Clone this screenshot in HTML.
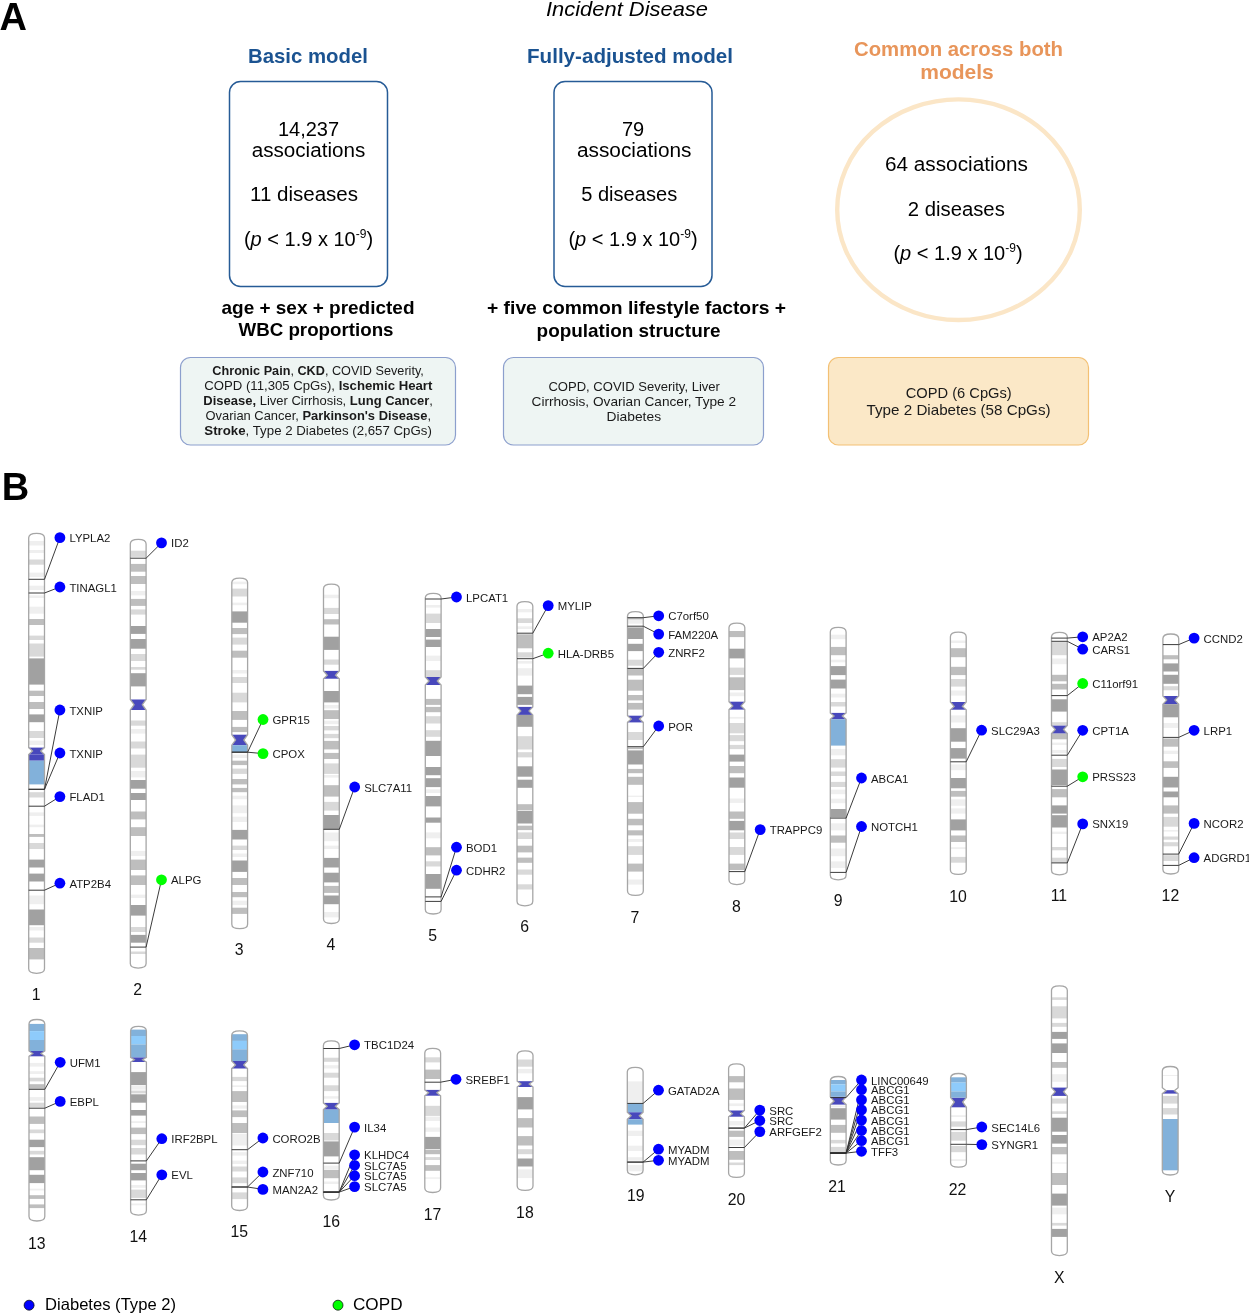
<!DOCTYPE html>
<html><head><meta charset="utf-8"><style>
html,body{margin:0;padding:0;background:#fff;}
svg{display:block;font-family:"Liberation Sans", sans-serif;will-change:transform;}
</style></head><body>
<svg width="1249" height="1314" viewBox="0 0 1249 1314">
<rect width="1249" height="1314" fill="#fff"/>
<text x="-0.5" y="30.2" font-size="38" font-weight="bold">A</text>
<text x="627" y="16.1" font-size="21" font-style="italic" text-anchor="middle" textLength="162" lengthAdjust="spacingAndGlyphs">Incident Disease</text>
<text x="308" y="62.5" font-size="21" font-weight="bold" fill="#1b5391" text-anchor="middle" textLength="120" lengthAdjust="spacingAndGlyphs">Basic model</text>
<text x="630" y="62.5" font-size="21" font-weight="bold" fill="#1b5391" text-anchor="middle" textLength="206" lengthAdjust="spacingAndGlyphs">Fully-adjusted model</text>
<text x="958.5" y="55.8" font-size="21" font-weight="bold" fill="#e8955a" text-anchor="middle" textLength="209" lengthAdjust="spacingAndGlyphs">Common across both</text>
<text x="957" y="79" font-size="21" font-weight="bold" fill="#e8955a" text-anchor="middle">models</text>
<rect x="229.5" y="81.5" width="158" height="205" rx="11" fill="none" stroke="#265b96" stroke-width="1.5"/>
<rect x="554" y="81.5" width="158" height="205" rx="11" fill="none" stroke="#265b96" stroke-width="1.5"/>
<ellipse cx="958.5" cy="209.7" rx="121.3" ry="110.3" fill="none" stroke="#fbe6c7" stroke-width="4.4"/>
<text x="308.5" y="135.5" font-size="20" text-anchor="middle">14,237</text>
<text x="308.5" y="157.2" font-size="20" text-anchor="middle" textLength="113.6" lengthAdjust="spacingAndGlyphs">associations</text>
<text x="304" y="201.2" font-size="20" text-anchor="middle" textLength="108" lengthAdjust="spacingAndGlyphs">11 diseases</text>
<text x="308.5" y="246" font-size="20" text-anchor="middle">(<tspan font-style="italic">p</tspan> &lt; 1.9 x 10<tspan font-size="12" dy="-8">-9</tspan><tspan dy="8">)</tspan></text>
<text x="633" y="135.5" font-size="20" text-anchor="middle">79</text>
<text x="634.2" y="157.2" font-size="20" text-anchor="middle" textLength="114.5" lengthAdjust="spacingAndGlyphs">associations</text>
<text x="629.2" y="201.2" font-size="20" text-anchor="middle" textLength="96" lengthAdjust="spacingAndGlyphs">5 diseases</text>
<text x="633" y="246" font-size="20" text-anchor="middle">(<tspan font-style="italic">p</tspan> &lt; 1.9 x 10<tspan font-size="12" dy="-8">-9</tspan><tspan dy="8">)</tspan></text>
<text x="956.5" y="171.4" font-size="20" text-anchor="middle" textLength="143" lengthAdjust="spacingAndGlyphs">64 associations</text>
<text x="956.3" y="216" font-size="20" text-anchor="middle" textLength="97" lengthAdjust="spacingAndGlyphs">2 diseases</text>
<text x="958" y="260" font-size="20" text-anchor="middle">(<tspan font-style="italic">p</tspan> &lt; 1.9 x 10<tspan font-size="12" dy="-8">-9</tspan><tspan dy="8">)</tspan></text>
<text x="318" y="314" font-size="18.5" font-weight="bold" text-anchor="middle" textLength="193" lengthAdjust="spacingAndGlyphs">age + sex + predicted</text>
<text x="316" y="336" font-size="18.5" font-weight="bold" text-anchor="middle" textLength="155" lengthAdjust="spacingAndGlyphs">WBC proportions</text>
<text x="636.5" y="314.3" font-size="18.5" font-weight="bold" text-anchor="middle" textLength="299" lengthAdjust="spacingAndGlyphs">+ five common lifestyle factors +</text>
<text x="628.6" y="336.5" font-size="18.5" font-weight="bold" text-anchor="middle" textLength="184" lengthAdjust="spacingAndGlyphs">population structure</text>
<rect x="180.5" y="357.5" width="275" height="87.5" rx="10" fill="#eef5f3" stroke="#8c9fcd" stroke-width="1.2"/>
<rect x="503.5" y="357.5" width="260" height="87.5" rx="10" fill="#eef5f3" stroke="#8c9fcd" stroke-width="1.2"/>
<rect x="828.5" y="357.5" width="260" height="87.5" rx="10" fill="#fbe8c7" stroke="#f3c074" stroke-width="1.2"/>
<text x="318.1" y="375.3" font-size="13" fill="#1a1a1a" text-anchor="middle" textLength="211.5" lengthAdjust="spacingAndGlyphs"><tspan font-weight="bold">Chronic Pain</tspan>, <tspan font-weight="bold">CKD</tspan>, COVID Severity,</text>
<text x="318.3" y="389.7" font-size="13" fill="#1a1a1a" text-anchor="middle" textLength="228" lengthAdjust="spacingAndGlyphs">COPD (11,305 CpGs), <tspan font-weight="bold">Ischemic Heart</tspan></text>
<text x="318.1" y="404.8" font-size="13" fill="#1a1a1a" text-anchor="middle" textLength="229.5" lengthAdjust="spacingAndGlyphs"><tspan font-weight="bold">Disease,</tspan> Liver Cirrhosis, <tspan font-weight="bold">Lung Cancer</tspan>,</text>
<text x="318.3" y="419.7" font-size="13" fill="#1a1a1a" text-anchor="middle" textLength="225.5" lengthAdjust="spacingAndGlyphs">Ovarian Cancer, <tspan font-weight="bold">Parkinson's Disease</tspan>,</text>
<text x="318.1" y="434.8" font-size="13" fill="#1a1a1a" text-anchor="middle" textLength="227.5" lengthAdjust="spacingAndGlyphs"><tspan font-weight="bold">Stroke</tspan>, Type 2 Diabetes (2,657 CpGs)</text>
<text x="634.2" y="390.5" font-size="13" fill="#1a1a1a" text-anchor="middle" textLength="171.5" lengthAdjust="spacingAndGlyphs">COPD, COVID Severity, Liver</text>
<text x="633.8" y="405.8" font-size="13" fill="#1a1a1a" text-anchor="middle" textLength="204.5" lengthAdjust="spacingAndGlyphs">Cirrhosis, Ovarian Cancer, Type 2</text>
<text x="633.8" y="420.8" font-size="13" fill="#1a1a1a" text-anchor="middle" textLength="54.5" lengthAdjust="spacingAndGlyphs">Diabetes</text>
<text x="958.7" y="397.6" font-size="15" fill="#1a1a1a" text-anchor="middle" textLength="106" lengthAdjust="spacingAndGlyphs">COPD (6 CpGs)</text>
<text x="958.6" y="414.5" font-size="15" fill="#1a1a1a" text-anchor="middle" textLength="184" lengthAdjust="spacingAndGlyphs">Type 2 Diabetes (58 CpGs)</text>
<text x="1.7" y="500" font-size="38" font-weight="bold">B</text>
<circle cx="29.1" cy="1305.2" r="5" fill="#0000ff" stroke="#000" stroke-width="0.7"/>
<text x="45" y="1309.8" font-size="16.5" textLength="131" lengthAdjust="spacingAndGlyphs">Diabetes (Type 2)</text>
<circle cx="338" cy="1305.2" r="5" fill="#00ff00" stroke="#000" stroke-width="0.7"/>
<text x="353" y="1309.8" font-size="16.5" textLength="49.5" lengthAdjust="spacingAndGlyphs">COPD</text>
<defs><clipPath id="c0"><path d="M28.7 537.8C28.7 534.5 31.9 533.3 36.6 533.3C41.3 533.3 44.5 534.5 44.5 537.8L44.5 747.6L40.7 751L44.5 754.6L44.5 968.8C44.5 972.1 41.3 973.3 36.6 973.3C31.9 973.3 28.7 972.1 28.7 968.8L28.7 754.6L32.5 751L28.7 747.6Z"/></clipPath><clipPath id="c1"><path d="M130.3 543.9C130.3 540.6 133.5 539.4 138.2 539.4C142.9 539.4 146.1 540.6 146.1 543.9L146.1 699.5L142.3 704.7L146.1 710L146.1 963.6C146.1 966.9 142.9 968.1 138.2 968.1C133.5 968.1 130.3 966.9 130.3 963.6L130.3 710L134.1 704.7L130.3 699.5Z"/></clipPath><clipPath id="c2"><path d="M231.8 582.6C231.8 579.3 235 578.1 239.7 578.1C244.4 578.1 247.6 579.3 247.6 582.6L247.6 734.7L243.8 740L247.6 745.2L247.6 924.2C247.6 927.5 244.4 928.7 239.7 928.7C235 928.7 231.8 927.5 231.8 924.2L231.8 745.2L235.6 740L231.8 734.7Z"/></clipPath><clipPath id="c3"><path d="M323.5 588.7C323.5 585.4 326.7 584.2 331.4 584.2C336.1 584.2 339.3 585.4 339.3 588.7L339.3 670.9L335.5 675.2L339.3 678.7L339.3 919C339.3 922.3 336.1 923.5 331.4 923.5C326.7 923.5 323.5 922.3 323.5 919L323.5 678.7L327.3 675.2L323.5 670.9Z"/></clipPath><clipPath id="c4"><path d="M425.3 597.8C425.3 594.5 428.5 593.3 433.2 593.3C437.9 593.3 441.1 594.5 441.1 597.8L441.1 677L437.3 681L441.1 685L441.1 909.5C441.1 912.8 437.9 914 433.2 914C428.5 914 425.3 912.8 425.3 909.5L425.3 685L429.1 681L425.3 677Z"/></clipPath><clipPath id="c5"><path d="M517 606.1C517 602.8 520.2 601.6 524.9 601.6C529.6 601.6 532.8 602.8 532.8 606.1L532.8 706.9L529 710.9L532.8 714.9L532.8 901.3C532.8 904.6 529.6 905.8 524.9 905.8C520.2 905.8 517 904.6 517 901.3L517 714.9L520.8 710.9L517 706.9Z"/></clipPath><clipPath id="c6"><path d="M627.5 616.1C627.5 612.8 630.7 611.6 635.4 611.6C640.1 611.6 643.3 612.8 643.3 616.1L643.3 715.7L639.5 719L643.3 722.4L643.3 890.9C643.3 894.2 640.1 895.4 635.4 895.4C630.7 895.4 627.5 894.2 627.5 890.9L627.5 722.4L631.3 719L627.5 715.7Z"/></clipPath><clipPath id="c7"><path d="M729 627.6C729 624.3 732.2 623.1 736.9 623.1C741.6 623.1 744.8 624.3 744.8 627.6L744.8 701.7L741 705.9L744.8 709.6L744.8 880.1C744.8 883.4 741.6 884.6 736.9 884.6C732.2 884.6 729 883.4 729 880.1L729 709.6L732.8 705.9L729 701.7Z"/></clipPath><clipPath id="c8"><path d="M830.3 631.9C830.3 628.6 833.5 627.4 838.2 627.4C842.9 627.4 846.1 628.6 846.1 631.9L846.1 712.9L842.3 716.1L846.1 719.3L846.1 875.3C846.1 878.6 842.9 879.8 838.2 879.8C833.5 879.8 830.3 878.6 830.3 875.3L830.3 719.3L834.1 716.1L830.3 712.9Z"/></clipPath><clipPath id="c9"><path d="M950.4 636.7C950.4 633.4 953.6 632.2 958.3 632.2C963 632.2 966.2 633.4 966.2 636.7L966.2 702L962.4 706.5L966.2 709.7L966.2 869.9C966.2 873.2 963 874.4 958.3 874.4C953.6 874.4 950.4 873.2 950.4 869.9L950.4 709.7L954.2 706.5L950.4 702Z"/></clipPath><clipPath id="c10"><path d="M1051.5 636.8C1051.5 633.5 1054.7 632.3 1059.4 632.3C1064.1 632.3 1067.3 633.5 1067.3 636.8L1067.3 725.4L1063.5 729.5L1067.3 733.6L1067.3 870.3C1067.3 873.6 1064.1 874.8 1059.4 874.8C1054.7 874.8 1051.5 873.6 1051.5 870.3L1051.5 733.6L1055.3 729.5L1051.5 725.4Z"/></clipPath><clipPath id="c11"><path d="M1162.9 638.5C1162.9 635.2 1166.1 634 1170.8 634C1175.5 634 1178.7 635.2 1178.7 638.5L1178.7 696L1174.9 700.1L1178.7 704.2L1178.7 869.5C1178.7 872.8 1175.5 874 1170.8 874C1166.1 874 1162.9 872.8 1162.9 869.5L1162.9 704.2L1166.7 700.1L1162.9 696Z"/></clipPath><clipPath id="c12"><path d="M29 1024C29 1020.7 32.2 1019.5 36.9 1019.5C41.6 1019.5 44.8 1020.7 44.8 1024L44.8 1051L41 1053.5L44.8 1056.3L44.8 1216.5C44.8 1219.8 41.6 1221 36.9 1221C32.2 1221 29 1219.8 29 1216.5L29 1056.3L32.8 1053.5L29 1051Z"/></clipPath><clipPath id="c13"><path d="M130.6 1030.9C130.6 1027.6 133.8 1026.4 138.5 1026.4C143.2 1026.4 146.4 1027.6 146.4 1030.9L146.4 1057.3L142.6 1059.7L146.4 1062L146.4 1210.6C146.4 1213.9 143.2 1215.1 138.5 1215.1C133.8 1215.1 130.6 1213.9 130.6 1210.6L130.6 1062L134.4 1059.7L130.6 1057.3Z"/></clipPath><clipPath id="c14"><path d="M231.7 1035.4C231.7 1032.1 234.9 1030.9 239.6 1030.9C244.3 1030.9 247.5 1032.1 247.5 1035.4L247.5 1061L243.7 1064.9L247.5 1068.5L247.5 1206C247.5 1209.3 244.3 1210.5 239.6 1210.5C234.9 1210.5 231.7 1209.3 231.7 1206L231.7 1068.5L235.5 1064.9L231.7 1061Z"/></clipPath><clipPath id="c15"><path d="M323.4 1045.4C323.4 1042.1 326.6 1040.9 331.3 1040.9C336 1040.9 339.2 1042.1 339.2 1045.4L339.2 1102.9L335.4 1106.2L339.2 1109.6L339.2 1195.5C339.2 1198.8 336 1200 331.3 1200C326.6 1200 323.4 1198.8 323.4 1195.5L323.4 1109.6L327.2 1106.2L323.4 1102.9Z"/></clipPath><clipPath id="c16"><path d="M424.8 1052.9C424.8 1049.6 428 1048.4 432.7 1048.4C437.4 1048.4 440.6 1049.6 440.6 1052.9L440.6 1089.9L436.8 1092.8L440.6 1095.7L440.6 1188C440.6 1191.3 437.4 1192.5 432.7 1192.5C428 1192.5 424.8 1191.3 424.8 1188L424.8 1095.7L428.6 1092.8L424.8 1089.9Z"/></clipPath><clipPath id="c17"><path d="M517.2 1055.3C517.2 1052 520.4 1050.8 525.1 1050.8C529.8 1050.8 533 1052 533 1055.3L533 1081.2L529.2 1084.1L533 1087L533 1185.9C533 1189.2 529.8 1190.4 525.1 1190.4C520.4 1190.4 517.2 1189.2 517.2 1185.9L517.2 1087L521 1084.1L517.2 1081.2Z"/></clipPath><clipPath id="c18"><path d="M627.3 1071.8C627.3 1068.5 630.5 1067.3 635.2 1067.3C639.9 1067.3 643.1 1068.5 643.1 1071.8L643.1 1112.2L639.3 1115.8L643.1 1119.3L643.1 1170.3C643.1 1173.6 639.9 1174.8 635.2 1174.8C630.5 1174.8 627.3 1173.6 627.3 1170.3L627.3 1119.3L631.1 1115.8L627.3 1112.2Z"/></clipPath><clipPath id="c19"><path d="M728.6 1068.3C728.6 1065 731.8 1063.8 736.5 1063.8C741.2 1063.8 744.4 1065 744.4 1068.3L744.4 1110.5L740.6 1113.7L744.4 1116.7L744.4 1172.9C744.4 1176.2 741.2 1177.4 736.5 1177.4C731.8 1177.4 728.6 1176.2 728.6 1172.9L728.6 1116.7L732.4 1113.7L728.6 1110.5Z"/></clipPath><clipPath id="c20"><path d="M830.3 1081C830.3 1077.7 833.5 1076.5 838.2 1076.5C842.9 1076.5 846.1 1077.7 846.1 1081L846.1 1096.7L842.3 1101.1L846.1 1104.6L846.1 1160.5C846.1 1163.8 842.9 1165 838.2 1165C833.5 1165 830.3 1163.8 830.3 1160.5L830.3 1104.6L834.1 1101.1L830.3 1096.7Z"/></clipPath><clipPath id="c21"><path d="M950.6 1078C950.6 1074.7 953.8 1073.5 958.5 1073.5C963.2 1073.5 966.4 1074.7 966.4 1078L966.4 1097.6L962.6 1102L966.4 1107.3L966.4 1162.7C966.4 1166 963.2 1167.2 958.5 1167.2C953.8 1167.2 950.6 1166 950.6 1162.7L950.6 1107.3L954.4 1102L950.6 1097.6Z"/></clipPath><clipPath id="c22"><path d="M1051.5 990.3C1051.5 987 1054.7 985.8 1059.4 985.8C1064.1 985.8 1067.3 987 1067.3 990.3L1067.3 1087.6L1063.5 1091.7L1067.3 1095.9L1067.3 1251.1C1067.3 1254.4 1064.1 1255.6 1059.4 1255.6C1054.7 1255.6 1051.5 1254.4 1051.5 1251.1L1051.5 1095.9L1055.3 1091.7L1051.5 1087.6Z"/></clipPath><clipPath id="c23"><path d="M1162.3 1071C1162.3 1067.7 1165.5 1066.5 1170.2 1066.5C1174.9 1066.5 1178.1 1067.7 1178.1 1071L1178.1 1087.8L1174.3 1090.8L1178.1 1093.6L1178.1 1170.5C1178.1 1173.8 1174.9 1175 1170.2 1175C1165.5 1175 1162.3 1173.8 1162.3 1170.5L1162.3 1093.6L1166.1 1090.8L1162.3 1087.8Z"/></clipPath></defs><g clip-path="url(#c0)"><rect x="27.7" y="747.6" width="17.8" height="7" fill="#4848bc"/><rect x="27.7" y="541" width="17.8" height="4.5" fill="#efefef"/><rect x="27.7" y="550" width="17.8" height="3" fill="#efefef"/><rect x="27.7" y="559.5" width="17.8" height="5.2" fill="#d9d9d9"/><rect x="27.7" y="572.6" width="17.8" height="4.4" fill="#efefef"/><rect x="27.7" y="585.7" width="17.8" height="4.3" fill="#efefef"/><rect x="27.7" y="595.4" width="17.8" height="2.6" fill="#efefef"/><rect x="27.7" y="606.7" width="17.8" height="7" fill="#efefef"/><rect x="27.7" y="619" width="17.8" height="6" fill="#bebebe"/><rect x="27.7" y="635.6" width="17.8" height="4.4" fill="#d9d9d9"/><rect x="27.7" y="643.5" width="17.8" height="13.1" fill="#d9d9d9"/><rect x="27.7" y="658.4" width="17.8" height="26.2" fill="#a1a1a1"/><rect x="27.7" y="690.7" width="17.8" height="5.3" fill="#bebebe"/><rect x="27.7" y="702" width="17.8" height="7" fill="#bebebe"/><rect x="27.7" y="714.4" width="17.8" height="7.8" fill="#a1a1a1"/><rect x="27.7" y="731" width="17.8" height="7" fill="#d9d9d9"/><rect x="27.7" y="740.6" width="17.8" height="4.4" fill="#efefef"/><rect x="27.7" y="754.6" width="17.8" height="6.1" fill="#4848bc"/><rect x="27.7" y="760.7" width="17.8" height="23.7" fill="#82b1da"/><rect x="27.7" y="792.2" width="17.8" height="5.3" fill="#d9d9d9"/><rect x="27.7" y="812.4" width="17.8" height="3.5" fill="#efefef"/><rect x="27.7" y="824.6" width="17.8" height="2.6" fill="#efefef"/><rect x="27.7" y="834" width="17.8" height="2.9" fill="#bebebe"/><rect x="27.7" y="843" width="17.8" height="6" fill="#d9d9d9"/><rect x="27.7" y="859.6" width="17.8" height="7.9" fill="#a1a1a1"/><rect x="27.7" y="873.6" width="17.8" height="7.9" fill="#a1a1a1"/><rect x="27.7" y="895.5" width="17.8" height="8.7" fill="#efefef"/><rect x="27.7" y="909.5" width="17.8" height="15.7" fill="#a1a1a1"/><rect x="27.7" y="927" width="17.8" height="3.5" fill="#efefef"/><rect x="27.7" y="937.5" width="17.8" height="5.2" fill="#d9d9d9"/><rect x="27.7" y="948" width="17.8" height="11.4" fill="#bebebe"/></g>
<path d="M28.7 537.8C28.7 534.5 31.9 533.3 36.6 533.3C41.3 533.3 44.5 534.5 44.5 537.8L44.5 747.6L40.7 751L44.5 754.6L44.5 968.8C44.5 972.1 41.3 973.3 36.6 973.3C31.9 973.3 28.7 972.1 28.7 968.8L28.7 754.6L32.5 751L28.7 747.6Z" fill="none" stroke="#a6a6a6" stroke-width="1.3"/>
<path d="M28.7 579.3H44.5L59.9 537.65" fill="none" stroke="#303030" stroke-width="0.95"/>
<path d="M28.7 593H44.5L59.9 587" fill="none" stroke="#303030" stroke-width="0.95"/>
<path d="M28.7 789.3H44.5L59.9 710" fill="none" stroke="#303030" stroke-width="0.95"/>
<path d="M28.7 789.3H44.5L59.9 753" fill="none" stroke="#303030" stroke-width="0.95"/>
<path d="M28.7 806.2H44.5L59.9 796.6" fill="none" stroke="#303030" stroke-width="0.95"/>
<path d="M28.7 890.2H44.5L59.9 883.2" fill="none" stroke="#303030" stroke-width="0.95"/>
<circle cx="59.9" cy="537.65" r="5.4" fill="#0000ff"/>
<text x="69.4" y="542.15" font-size="11.4" fill="#1a1a1a">LYPLA2</text>
<circle cx="59.9" cy="587" r="5.4" fill="#0000ff"/>
<text x="69.4" y="591.5" font-size="11.4" fill="#1a1a1a">TINAGL1</text>
<circle cx="59.9" cy="710" r="5.4" fill="#0000ff"/>
<text x="69.4" y="714.5" font-size="11.4" fill="#1a1a1a">TXNIP</text>
<circle cx="59.9" cy="753" r="5.4" fill="#0000ff"/>
<text x="69.4" y="757.5" font-size="11.4" fill="#1a1a1a">TXNIP</text>
<circle cx="59.9" cy="796.6" r="5.4" fill="#0000ff"/>
<text x="69.4" y="801.1" font-size="11.4" fill="#1a1a1a">FLAD1</text>
<circle cx="59.9" cy="883.2" r="5.4" fill="#0000ff"/>
<text x="69.4" y="887.7" font-size="11.4" fill="#1a1a1a">ATP2B4</text>
<text x="36.2" y="1000.2" font-size="15.8" text-anchor="middle" fill="#111">1</text>
<g clip-path="url(#c1)"><rect x="129.3" y="699.5" width="17.8" height="10.5" fill="#4848bc"/><rect x="129.3" y="550.7" width="17.8" height="6.2" fill="#d9d9d9"/><rect x="129.3" y="563.9" width="17.8" height="7.8" fill="#bebebe"/><rect x="129.3" y="576" width="17.8" height="8" fill="#bebebe"/><rect x="129.3" y="591" width="17.8" height="4.4" fill="#efefef"/><rect x="129.3" y="598.9" width="17.8" height="7" fill="#bebebe"/><rect x="129.3" y="609.4" width="17.8" height="5.2" fill="#d9d9d9"/><rect x="129.3" y="626" width="17.8" height="7.9" fill="#a1a1a1"/><rect x="129.3" y="639" width="17.8" height="9.7" fill="#a1a1a1"/><rect x="129.3" y="654" width="17.8" height="7" fill="#d9d9d9"/><rect x="129.3" y="667" width="17.8" height="2.7" fill="#d9d9d9"/><rect x="129.3" y="673.2" width="17.8" height="13.2" fill="#a1a1a1"/><rect x="129.3" y="720.5" width="17.8" height="5.2" fill="#d9d9d9"/><rect x="129.3" y="729" width="17.8" height="4.6" fill="#efefef"/><rect x="129.3" y="741.5" width="17.8" height="7" fill="#d9d9d9"/><rect x="129.3" y="754.6" width="17.8" height="13.1" fill="#d9d9d9"/><rect x="129.3" y="771" width="17.8" height="6.4" fill="#efefef"/><rect x="129.3" y="780" width="17.8" height="8.7" fill="#a1a1a1"/><rect x="129.3" y="793" width="17.8" height="7" fill="#a1a1a1"/><rect x="129.3" y="811.5" width="17.8" height="7.9" fill="#bebebe"/><rect x="129.3" y="827.2" width="17.8" height="8.8" fill="#bebebe"/><rect x="129.3" y="850.9" width="17.8" height="5.1" fill="#efefef"/><rect x="129.3" y="859.6" width="17.8" height="10.4" fill="#bebebe"/><rect x="129.3" y="875.4" width="17.8" height="9.6" fill="#bebebe"/><rect x="129.3" y="894.6" width="17.8" height="3.4" fill="#efefef"/><rect x="129.3" y="905" width="17.8" height="10.6" fill="#a1a1a1"/><rect x="129.3" y="927" width="17.8" height="5" fill="#d9d9d9"/><rect x="129.3" y="934.9" width="17.8" height="7.8" fill="#a1a1a1"/><rect x="129.3" y="951.5" width="17.8" height="2.5" fill="#d9d9d9"/></g>
<path d="M130.3 543.9C130.3 540.6 133.5 539.4 138.2 539.4C142.9 539.4 146.1 540.6 146.1 543.9L146.1 699.5L142.3 704.7L146.1 710L146.1 963.6C146.1 966.9 142.9 968.1 138.2 968.1C133.5 968.1 130.3 966.9 130.3 963.6L130.3 710L134.1 704.7L130.3 699.5Z" fill="none" stroke="#a6a6a6" stroke-width="1.3"/>
<path d="M130.3 558.2H146.1L161.5 542.9" fill="none" stroke="#303030" stroke-width="0.95"/>
<path d="M130.3 947.1H146.1L161.5 879.8" fill="none" stroke="#303030" stroke-width="0.95"/>
<circle cx="161.5" cy="542.9" r="5.4" fill="#0000ff"/>
<text x="171" y="547.4" font-size="11.4" fill="#1a1a1a">ID2</text>
<circle cx="161.5" cy="879.8" r="5.4" fill="#00ff00"/>
<text x="171" y="884.3" font-size="11.4" fill="#1a1a1a">ALPG</text>
<text x="137.7" y="995.4" font-size="15.8" text-anchor="middle" fill="#111">2</text>
<g clip-path="url(#c2)"><rect x="230.8" y="734.7" width="17.8" height="10.5" fill="#4848bc"/><rect x="230.8" y="581.6" width="17.8" height="2.6" fill="#efefef"/><rect x="230.8" y="588.6" width="17.8" height="7.9" fill="#d9d9d9"/><rect x="230.8" y="602.6" width="17.8" height="2.6" fill="#efefef"/><rect x="230.8" y="611.4" width="17.8" height="11.3" fill="#a1a1a1"/><rect x="230.8" y="628" width="17.8" height="6.1" fill="#bebebe"/><rect x="230.8" y="637.6" width="17.8" height="7" fill="#d9d9d9"/><rect x="230.8" y="650.7" width="17.8" height="7" fill="#bebebe"/><rect x="230.8" y="670" width="17.8" height="3.5" fill="#efefef"/><rect x="230.8" y="677" width="17.8" height="6" fill="#d9d9d9"/><rect x="230.8" y="692.7" width="17.8" height="9.7" fill="#d9d9d9"/><rect x="230.8" y="711" width="17.8" height="8.9" fill="#bebebe"/><rect x="230.8" y="726.9" width="17.8" height="5.2" fill="#bebebe"/><rect x="230.8" y="745.2" width="17.8" height="7" fill="#82b1da"/><rect x="230.8" y="754.6" width="17.8" height="3.4" fill="#efefef"/><rect x="230.8" y="760.7" width="17.8" height="4.4" fill="#bebebe"/><rect x="230.8" y="768.6" width="17.8" height="5.3" fill="#d9d9d9"/><rect x="230.8" y="779" width="17.8" height="5.4" fill="#bebebe"/><rect x="230.8" y="787.9" width="17.8" height="4.3" fill="#bebebe"/><rect x="230.8" y="795.7" width="17.8" height="3.5" fill="#efefef"/><rect x="230.8" y="805.4" width="17.8" height="7.8" fill="#efefef"/><rect x="230.8" y="816.7" width="17.8" height="5.3" fill="#efefef"/><rect x="230.8" y="829.9" width="17.8" height="9.6" fill="#a1a1a1"/><rect x="230.8" y="845.6" width="17.8" height="4.4" fill="#d9d9d9"/><rect x="230.8" y="853.5" width="17.8" height="3.5" fill="#efefef"/><rect x="230.8" y="860.5" width="17.8" height="11.4" fill="#a1a1a1"/><rect x="230.8" y="878" width="17.8" height="7" fill="#bebebe"/><rect x="230.8" y="892" width="17.8" height="5.2" fill="#bebebe"/><rect x="230.8" y="900.7" width="17.8" height="4.4" fill="#efefef"/><rect x="230.8" y="907.7" width="17.8" height="6.2" fill="#bebebe"/></g>
<path d="M231.8 582.6C231.8 579.3 235 578.1 239.7 578.1C244.4 578.1 247.6 579.3 247.6 582.6L247.6 734.7L243.8 740L247.6 745.2L247.6 924.2C247.6 927.5 244.4 928.7 239.7 928.7C235 928.7 231.8 927.5 231.8 924.2L231.8 745.2L235.6 740L231.8 734.7Z" fill="none" stroke="#a6a6a6" stroke-width="1.3"/>
<path d="M231.8 752.2H247.6L263 719.5" fill="none" stroke="#303030" stroke-width="0.95"/>
<path d="M231.8 752.2H247.6L263 753.6" fill="none" stroke="#303030" stroke-width="0.95"/>
<circle cx="263" cy="719.5" r="5.4" fill="#00ff00"/>
<text x="272.5" y="724" font-size="11.4" fill="#1a1a1a">GPR15</text>
<circle cx="263" cy="753.6" r="5.4" fill="#00ff00"/>
<text x="272.5" y="758.1" font-size="11.4" fill="#1a1a1a">CPOX</text>
<text x="239.1" y="955.4" font-size="15.8" text-anchor="middle" fill="#111">3</text>
<g clip-path="url(#c3)"><rect x="322.5" y="670.9" width="17.8" height="7.8" fill="#4848bc"/><rect x="322.5" y="594.7" width="17.8" height="3.5" fill="#efefef"/><rect x="322.5" y="607.9" width="17.8" height="6.1" fill="#d9d9d9"/><rect x="322.5" y="619.2" width="17.8" height="5.3" fill="#bebebe"/><rect x="322.5" y="636.7" width="17.8" height="13.2" fill="#a1a1a1"/><rect x="322.5" y="659.5" width="17.8" height="5.2" fill="#d9d9d9"/><rect x="322.5" y="691" width="17.8" height="11.4" fill="#a1a1a1"/><rect x="322.5" y="705" width="17.8" height="3.5" fill="#efefef"/><rect x="322.5" y="710.2" width="17.8" height="8.8" fill="#bebebe"/><rect x="322.5" y="720.7" width="17.8" height="3.5" fill="#efefef"/><rect x="322.5" y="726" width="17.8" height="4.4" fill="#d9d9d9"/><rect x="322.5" y="733.9" width="17.8" height="4.3" fill="#d9d9d9"/><rect x="322.5" y="740.9" width="17.8" height="8.5" fill="#bebebe"/><rect x="322.5" y="752.9" width="17.8" height="6.1" fill="#bebebe"/><rect x="322.5" y="763.4" width="17.8" height="10.5" fill="#d9d9d9"/><rect x="322.5" y="775" width="17.8" height="2.6" fill="#efefef"/><rect x="322.5" y="785.2" width="17.8" height="11.4" fill="#bebebe"/><rect x="322.5" y="801.9" width="17.8" height="8.7" fill="#d9d9d9"/><rect x="322.5" y="815" width="17.8" height="14" fill="#a1a1a1"/><rect x="322.5" y="832.5" width="17.8" height="8.7" fill="#efefef"/><rect x="322.5" y="845.6" width="17.8" height="3.4" fill="#efefef"/><rect x="322.5" y="857.9" width="17.8" height="9.6" fill="#a1a1a1"/><rect x="322.5" y="872.7" width="17.8" height="9.7" fill="#a1a1a1"/><rect x="322.5" y="885.9" width="17.8" height="7" fill="#bebebe"/><rect x="322.5" y="895.5" width="17.8" height="8.7" fill="#a1a1a1"/><rect x="322.5" y="912" width="17.8" height="5.4" fill="#efefef"/></g>
<path d="M323.5 588.7C323.5 585.4 326.7 584.2 331.4 584.2C336.1 584.2 339.3 585.4 339.3 588.7L339.3 670.9L335.5 675.2L339.3 678.7L339.3 919C339.3 922.3 336.1 923.5 331.4 923.5C326.7 923.5 323.5 922.3 323.5 919L323.5 678.7L327.3 675.2L323.5 670.9Z" fill="none" stroke="#a6a6a6" stroke-width="1.3"/>
<path d="M323.5 829.3H339.3L354.7 787" fill="none" stroke="#303030" stroke-width="0.95"/>
<circle cx="354.7" cy="787" r="5.4" fill="#0000ff"/>
<text x="364.2" y="791.5" font-size="11.4" fill="#1a1a1a">SLC7A11</text>
<text x="331" y="950.1" font-size="15.8" text-anchor="middle" fill="#111">4</text>
<g clip-path="url(#c4)"><rect x="424.3" y="677" width="17.8" height="8" fill="#4848bc"/><rect x="424.3" y="605" width="17.8" height="2.6" fill="#efefef"/><rect x="424.3" y="613.6" width="17.8" height="9.4" fill="#d9d9d9"/><rect x="424.3" y="629" width="17.8" height="8" fill="#a1a1a1"/><rect x="424.3" y="639.6" width="17.8" height="7.4" fill="#a1a1a1"/><rect x="424.3" y="655.6" width="17.8" height="5.4" fill="#efefef"/><rect x="424.3" y="670.2" width="17.8" height="6.8" fill="#d9d9d9"/><rect x="424.3" y="698.9" width="17.8" height="6" fill="#bebebe"/><rect x="424.3" y="706.9" width="17.8" height="5.3" fill="#bebebe"/><rect x="424.3" y="716.2" width="17.8" height="7.3" fill="#d9d9d9"/><rect x="424.3" y="730.2" width="17.8" height="6.6" fill="#d9d9d9"/><rect x="424.3" y="740.8" width="17.8" height="15.2" fill="#a1a1a1"/><rect x="424.3" y="767" width="17.8" height="8.2" fill="#a1a1a1"/><rect x="424.3" y="778.2" width="17.8" height="8.9" fill="#a1a1a1"/><rect x="424.3" y="789.3" width="17.8" height="3.7" fill="#efefef"/><rect x="424.3" y="796" width="17.8" height="10.4" fill="#a1a1a1"/><rect x="424.3" y="817.5" width="17.8" height="5.2" fill="#a1a1a1"/><rect x="424.3" y="832.4" width="17.8" height="5.9" fill="#efefef"/><rect x="424.3" y="847.2" width="17.8" height="8.2" fill="#bebebe"/><rect x="424.3" y="861.3" width="17.8" height="5.2" fill="#d9d9d9"/><rect x="424.3" y="874" width="17.8" height="14.8" fill="#a1a1a1"/></g>
<path d="M425.3 597.8C425.3 594.5 428.5 593.3 433.2 593.3C437.9 593.3 441.1 594.5 441.1 597.8L441.1 677L437.3 681L441.1 685L441.1 909.5C441.1 912.8 437.9 914 433.2 914C428.5 914 425.3 912.8 425.3 909.5L425.3 685L429.1 681L425.3 677Z" fill="none" stroke="#a6a6a6" stroke-width="1.3"/>
<path d="M425.3 599H441.1L456.5 597" fill="none" stroke="#303030" stroke-width="0.95"/>
<path d="M425.3 896.9H441.1L456.5 847.2" fill="none" stroke="#303030" stroke-width="0.95"/>
<path d="M425.3 901.4H441.1L456.5 870.2" fill="none" stroke="#303030" stroke-width="0.95"/>
<circle cx="456.5" cy="597" r="5.4" fill="#0000ff"/>
<text x="466" y="601.5" font-size="11.4" fill="#1a1a1a">LPCAT1</text>
<circle cx="456.5" cy="847.2" r="5.4" fill="#0000ff"/>
<text x="466" y="851.7" font-size="11.4" fill="#1a1a1a">BOD1</text>
<circle cx="456.5" cy="870.2" r="5.4" fill="#0000ff"/>
<text x="466" y="874.7" font-size="11.4" fill="#1a1a1a">CDHR2</text>
<text x="432.6" y="941.1" font-size="15.8" text-anchor="middle" fill="#111">5</text>
<g clip-path="url(#c5)"><rect x="516" y="706.9" width="17.8" height="8" fill="#4848bc"/><rect x="516" y="609" width="17.8" height="3.3" fill="#efefef"/><rect x="516" y="618.3" width="17.8" height="4.7" fill="#d9d9d9"/><rect x="516" y="626.3" width="17.8" height="2.7" fill="#efefef"/><rect x="516" y="634.3" width="17.8" height="14" fill="#bebebe"/><rect x="516" y="652.3" width="17.8" height="5.3" fill="#d9d9d9"/><rect x="516" y="661" width="17.8" height="2.6" fill="#efefef"/><rect x="516" y="668.2" width="17.8" height="7.4" fill="#efefef"/><rect x="516" y="685.6" width="17.8" height="8.6" fill="#a1a1a1"/><rect x="516" y="696.9" width="17.8" height="8" fill="#a1a1a1"/><rect x="516" y="714.9" width="17.8" height="11.9" fill="#a1a1a1"/><rect x="516" y="736.2" width="17.8" height="13.3" fill="#d9d9d9"/><rect x="516" y="752.2" width="17.8" height="5.2" fill="#d9d9d9"/><rect x="516" y="766.3" width="17.8" height="10.4" fill="#a1a1a1"/><rect x="516" y="779.7" width="17.8" height="8.1" fill="#a1a1a1"/><rect x="516" y="804.2" width="17.8" height="5.9" fill="#bebebe"/><rect x="516" y="810.8" width="17.8" height="12.7" fill="#a1a1a1"/><rect x="516" y="825.7" width="17.8" height="4.4" fill="#bebebe"/><rect x="516" y="832.4" width="17.8" height="6.6" fill="#d9d9d9"/><rect x="516" y="845.7" width="17.8" height="6.7" fill="#bebebe"/><rect x="516" y="857.6" width="17.8" height="5.2" fill="#bebebe"/><rect x="516" y="869.5" width="17.8" height="5.2" fill="#d9d9d9"/><rect x="516" y="884.3" width="17.8" height="5.2" fill="#d9d9d9"/></g>
<path d="M517 606.1C517 602.8 520.2 601.6 524.9 601.6C529.6 601.6 532.8 602.8 532.8 606.1L532.8 706.9L529 710.9L532.8 714.9L532.8 901.3C532.8 904.6 529.6 905.8 524.9 905.8C520.2 905.8 517 904.6 517 901.3L517 714.9L520.8 710.9L517 706.9Z" fill="none" stroke="#a6a6a6" stroke-width="1.3"/>
<path d="M517 633.2H532.8L548.2 605.6" fill="none" stroke="#303030" stroke-width="0.95"/>
<path d="M517 658.7H532.8L548.2 653.2" fill="none" stroke="#303030" stroke-width="0.95"/>
<circle cx="548.2" cy="605.6" r="5.4" fill="#0000ff"/>
<text x="557.7" y="610.1" font-size="11.4" fill="#1a1a1a">MYLIP</text>
<circle cx="548.2" cy="653.2" r="5.4" fill="#00ff00"/>
<text x="557.7" y="657.7" font-size="11.4" fill="#1a1a1a">HLA-DRB5</text>
<text x="524.6" y="932.2" font-size="15.8" text-anchor="middle" fill="#111">6</text>
<g clip-path="url(#c6)"><rect x="626.5" y="715.7" width="17.8" height="6.7" fill="#4848bc"/><rect x="626.5" y="617.7" width="17.8" height="1.8" fill="#bebebe"/><rect x="626.5" y="620" width="17.8" height="3.7" fill="#efefef"/><rect x="626.5" y="627.4" width="17.8" height="11.6" fill="#a1a1a1"/><rect x="626.5" y="643.8" width="17.8" height="7.3" fill="#a1a1a1"/><rect x="626.5" y="659.7" width="17.8" height="6" fill="#d9d9d9"/><rect x="626.5" y="668.8" width="17.8" height="6.7" fill="#bebebe"/><rect x="626.5" y="679.7" width="17.8" height="11" fill="#bebebe"/><rect x="626.5" y="695" width="17.8" height="5.4" fill="#bebebe"/><rect x="626.5" y="702.9" width="17.8" height="6.7" fill="#bebebe"/><rect x="626.5" y="732" width="17.8" height="8" fill="#d9d9d9"/><rect x="626.5" y="747.3" width="17.8" height="1.8" fill="#bebebe"/><rect x="626.5" y="750.4" width="17.8" height="14.1" fill="#a1a1a1"/><rect x="626.5" y="768.9" width="17.8" height="4.3" fill="#bebebe"/><rect x="626.5" y="776.8" width="17.8" height="8" fill="#bebebe"/><rect x="626.5" y="795.6" width="17.8" height="1.4" fill="#efefef"/><rect x="626.5" y="802.1" width="17.8" height="11.6" fill="#bebebe"/><rect x="626.5" y="818.8" width="17.8" height="6.5" fill="#bebebe"/><rect x="626.5" y="830.3" width="17.8" height="5.1" fill="#bebebe"/><rect x="626.5" y="839" width="17.8" height="2.9" fill="#efefef"/><rect x="626.5" y="846.2" width="17.8" height="8.7" fill="#d9d9d9"/><rect x="626.5" y="863.6" width="17.8" height="8" fill="#bebebe"/><rect x="626.5" y="879.5" width="17.8" height="5.1" fill="#efefef"/></g>
<path d="M627.5 616.1C627.5 612.8 630.7 611.6 635.4 611.6C640.1 611.6 643.3 612.8 643.3 616.1L643.3 715.7L639.5 719L643.3 722.4L643.3 890.9C643.3 894.2 640.1 895.4 635.4 895.4C630.7 895.4 627.5 894.2 627.5 890.9L627.5 722.4L631.3 719L627.5 715.7Z" fill="none" stroke="#a6a6a6" stroke-width="1.3"/>
<path d="M627.5 617.7H643.3L658.7 615.8" fill="none" stroke="#303030" stroke-width="0.95"/>
<path d="M627.5 626.2H643.3L658.7 634.1" fill="none" stroke="#303030" stroke-width="0.95"/>
<path d="M627.5 668.4H643.3L658.7 652.3" fill="none" stroke="#303030" stroke-width="0.95"/>
<path d="M627.5 746.7H643.3L658.7 726" fill="none" stroke="#303030" stroke-width="0.95"/>
<circle cx="658.7" cy="615.8" r="5.4" fill="#0000ff"/>
<text x="668.2" y="620.3" font-size="11.4" fill="#1a1a1a">C7orf50</text>
<circle cx="658.7" cy="634.1" r="5.4" fill="#0000ff"/>
<text x="668.2" y="638.6" font-size="11.4" fill="#1a1a1a">FAM220A</text>
<circle cx="658.7" cy="652.3" r="5.4" fill="#0000ff"/>
<text x="668.2" y="656.8" font-size="11.4" fill="#1a1a1a">ZNRF2</text>
<circle cx="658.7" cy="726" r="5.4" fill="#0000ff"/>
<text x="668.2" y="730.5" font-size="11.4" fill="#1a1a1a">POR</text>
<text x="634.9" y="922.6" font-size="15.8" text-anchor="middle" fill="#111">7</text>
<g clip-path="url(#c7)"><rect x="728" y="701.7" width="17.8" height="7.9" fill="#4848bc"/><rect x="728" y="631" width="17.8" height="6.1" fill="#bebebe"/><rect x="728" y="648.7" width="17.8" height="9.7" fill="#a1a1a1"/><rect x="728" y="667.6" width="17.8" height="7.3" fill="#d9d9d9"/><rect x="728" y="677.3" width="17.8" height="12.8" fill="#bebebe"/><rect x="728" y="692.5" width="17.8" height="3.7" fill="#efefef"/><rect x="728" y="716.9" width="17.8" height="1.8" fill="#efefef"/><rect x="728" y="723" width="17.8" height="10.3" fill="#d9d9d9"/><rect x="728" y="735.1" width="17.8" height="6.1" fill="#d9d9d9"/><rect x="728" y="744.9" width="17.8" height="4.2" fill="#d9d9d9"/><rect x="728" y="754.6" width="17.8" height="7" fill="#a1a1a1"/><rect x="728" y="766" width="17.8" height="7.2" fill="#bebebe"/><rect x="728" y="777.5" width="17.8" height="10.2" fill="#a1a1a1"/><rect x="728" y="798.5" width="17.8" height="4.4" fill="#efefef"/><rect x="728" y="811.5" width="17.8" height="7.3" fill="#bebebe"/><rect x="728" y="820.9" width="17.8" height="9.4" fill="#a1a1a1"/><rect x="728" y="832.5" width="17.8" height="6.5" fill="#d9d9d9"/><rect x="728" y="847" width="17.8" height="7.9" fill="#d9d9d9"/><rect x="728" y="863.6" width="17.8" height="6.5" fill="#bebebe"/></g>
<path d="M729 627.6C729 624.3 732.2 623.1 736.9 623.1C741.6 623.1 744.8 624.3 744.8 627.6L744.8 701.7L741 705.9L744.8 709.6L744.8 880.1C744.8 883.4 741.6 884.6 736.9 884.6C732.2 884.6 729 883.4 729 880.1L729 709.6L732.8 705.9L729 701.7Z" fill="none" stroke="#a6a6a6" stroke-width="1.3"/>
<path d="M729 871.6H744.8L760.2 829.6" fill="none" stroke="#303030" stroke-width="0.95"/>
<circle cx="760.2" cy="829.6" r="5.4" fill="#0000ff"/>
<text x="769.7" y="834.1" font-size="11.4" fill="#1a1a1a">TRAPPC9</text>
<text x="736.4" y="911.7" font-size="15.8" text-anchor="middle" fill="#111">8</text>
<g clip-path="url(#c8)"><rect x="829.3" y="712.9" width="17.8" height="6.4" fill="#4848bc"/><rect x="829.3" y="634.7" width="17.8" height="4.5" fill="#efefef"/><rect x="829.3" y="646.9" width="17.8" height="8.3" fill="#bebebe"/><rect x="829.3" y="659.7" width="17.8" height="2.6" fill="#efefef"/><rect x="829.3" y="666.1" width="17.8" height="9" fill="#a1a1a1"/><rect x="829.3" y="679.6" width="17.8" height="8.9" fill="#a1a1a1"/><rect x="829.3" y="693.7" width="17.8" height="3.8" fill="#efefef"/><rect x="829.3" y="702" width="17.8" height="4.5" fill="#d9d9d9"/><rect x="829.3" y="719.3" width="17.8" height="26.3" fill="#82b1da"/><rect x="829.3" y="748.9" width="17.8" height="6.4" fill="#efefef"/><rect x="829.3" y="759.2" width="17.8" height="8.4" fill="#d9d9d9"/><rect x="829.3" y="771.5" width="17.8" height="4.5" fill="#d9d9d9"/><rect x="829.3" y="781.9" width="17.8" height="5.1" fill="#d9d9d9"/><rect x="829.3" y="789.6" width="17.8" height="4.6" fill="#efefef"/><rect x="829.3" y="798.7" width="17.8" height="4.5" fill="#efefef"/><rect x="829.3" y="809" width="17.8" height="8.4" fill="#a1a1a1"/><rect x="829.3" y="823.3" width="17.8" height="7.1" fill="#efefef"/><rect x="829.3" y="835.5" width="17.8" height="7.2" fill="#bebebe"/><rect x="829.3" y="848.5" width="17.8" height="7.7" fill="#efefef"/><rect x="829.3" y="861.4" width="17.8" height="6.5" fill="#efefef"/></g>
<path d="M830.3 631.9C830.3 628.6 833.5 627.4 838.2 627.4C842.9 627.4 846.1 628.6 846.1 631.9L846.1 712.9L842.3 716.1L846.1 719.3L846.1 875.3C846.1 878.6 842.9 879.8 838.2 879.8C833.5 879.8 830.3 878.6 830.3 875.3L830.3 719.3L834.1 716.1L830.3 712.9Z" fill="none" stroke="#a6a6a6" stroke-width="1.3"/>
<path d="M830.3 818.1H846.1L861.5 778" fill="none" stroke="#303030" stroke-width="0.95"/>
<path d="M830.3 872.4H846.1L861.5 826.5" fill="none" stroke="#303030" stroke-width="0.95"/>
<circle cx="861.5" cy="778" r="5.4" fill="#0000ff"/>
<text x="871" y="782.5" font-size="11.4" fill="#1a1a1a">ABCA1</text>
<circle cx="861.5" cy="826.5" r="5.4" fill="#0000ff"/>
<text x="871" y="831" font-size="11.4" fill="#1a1a1a">NOTCH1</text>
<text x="838.2" y="906.4" font-size="15.8" text-anchor="middle" fill="#111">9</text>
<g clip-path="url(#c9)"><rect x="949.4" y="702" width="17.8" height="7.7" fill="#4848bc"/><rect x="949.4" y="640.5" width="17.8" height="2.5" fill="#efefef"/><rect x="949.4" y="648.2" width="17.8" height="9" fill="#bebebe"/><rect x="949.4" y="666.8" width="17.8" height="8.3" fill="#bebebe"/><rect x="949.4" y="679" width="17.8" height="7.6" fill="#d9d9d9"/><rect x="949.4" y="690.5" width="17.8" height="5.1" fill="#efefef"/><rect x="949.4" y="715.4" width="17.8" height="7.1" fill="#efefef"/><rect x="949.4" y="728.2" width="17.8" height="13.5" fill="#a1a1a1"/><rect x="949.4" y="748.1" width="17.8" height="10.5" fill="#a1a1a1"/><rect x="949.4" y="764.4" width="17.8" height="5.8" fill="#efefef"/><rect x="949.4" y="778" width="17.8" height="10.3" fill="#a1a1a1"/><rect x="949.4" y="790.9" width="17.8" height="5.8" fill="#bebebe"/><rect x="949.4" y="799.3" width="17.8" height="6.5" fill="#efefef"/><rect x="949.4" y="808.4" width="17.8" height="5.2" fill="#efefef"/><rect x="949.4" y="819.4" width="17.8" height="11" fill="#a1a1a1"/><rect x="949.4" y="835.5" width="17.8" height="6.5" fill="#bebebe"/><rect x="949.4" y="847.2" width="17.8" height="1.9" fill="#efefef"/><rect x="949.4" y="856.9" width="17.8" height="5.8" fill="#d9d9d9"/></g>
<path d="M950.4 636.7C950.4 633.4 953.6 632.2 958.3 632.2C963 632.2 966.2 633.4 966.2 636.7L966.2 702L962.4 706.5L966.2 709.7L966.2 869.9C966.2 873.2 963 874.4 958.3 874.4C953.6 874.4 950.4 873.2 950.4 869.9L950.4 709.7L954.2 706.5L950.4 702Z" fill="none" stroke="#a6a6a6" stroke-width="1.3"/>
<path d="M950.4 761.8H966.2L981.6 730.2" fill="none" stroke="#303030" stroke-width="0.95"/>
<circle cx="981.6" cy="730.2" r="5.4" fill="#0000ff"/>
<text x="991.1" y="734.7" font-size="11.4" fill="#1a1a1a">SLC29A3</text>
<text x="958" y="901.9" font-size="15.8" text-anchor="middle" fill="#111">10</text>
<g clip-path="url(#c10)"><rect x="1050.5" y="725.4" width="17.8" height="8.2" fill="#4848bc"/><rect x="1050.5" y="642.1" width="17.8" height="13.1" fill="#d9d9d9"/><rect x="1050.5" y="658.5" width="17.8" height="5.7" fill="#efefef"/><rect x="1050.5" y="674.8" width="17.8" height="6.5" fill="#bebebe"/><rect x="1050.5" y="683.8" width="17.8" height="5.7" fill="#bebebe"/><rect x="1050.5" y="699.3" width="17.8" height="12.3" fill="#a1a1a1"/><rect x="1050.5" y="722.2" width="17.8" height="3.2" fill="#d9d9d9"/><rect x="1050.5" y="733.6" width="17.8" height="5.7" fill="#bebebe"/><rect x="1050.5" y="742.6" width="17.8" height="2.4" fill="#efefef"/><rect x="1050.5" y="749.9" width="17.8" height="3.3" fill="#efefef"/><rect x="1050.5" y="758.9" width="17.8" height="8.1" fill="#d9d9d9"/><rect x="1050.5" y="769.5" width="17.8" height="15.5" fill="#a1a1a1"/><rect x="1050.5" y="789.1" width="17.8" height="8.2" fill="#bebebe"/><rect x="1050.5" y="805.4" width="17.8" height="8.2" fill="#a1a1a1"/><rect x="1050.5" y="815.2" width="17.8" height="12.3" fill="#a1a1a1"/><rect x="1050.5" y="831.6" width="17.8" height="2.4" fill="#efefef"/><rect x="1050.5" y="847" width="17.8" height="3.3" fill="#d9d9d9"/><rect x="1050.5" y="857.7" width="17.8" height="4.9" fill="#d9d9d9"/></g>
<path d="M1051.5 636.8C1051.5 633.5 1054.7 632.3 1059.4 632.3C1064.1 632.3 1067.3 633.5 1067.3 636.8L1067.3 725.4L1063.5 729.5L1067.3 733.6L1067.3 870.3C1067.3 873.6 1064.1 874.8 1059.4 874.8C1054.7 874.8 1051.5 873.6 1051.5 870.3L1051.5 733.6L1055.3 729.5L1051.5 725.4Z" fill="none" stroke="#a6a6a6" stroke-width="1.3"/>
<path d="M1051.5 638.1H1067.3L1082.7 636.8" fill="none" stroke="#303030" stroke-width="0.95"/>
<path d="M1051.5 641.3H1067.3L1082.7 649.2" fill="none" stroke="#303030" stroke-width="0.95"/>
<path d="M1051.5 695.6H1067.3L1082.7 683.5" fill="none" stroke="#303030" stroke-width="0.95"/>
<path d="M1051.5 755.2H1067.3L1082.7 730.3" fill="none" stroke="#303030" stroke-width="0.95"/>
<path d="M1051.5 786.2H1067.3L1082.7 776.8" fill="none" stroke="#303030" stroke-width="0.95"/>
<path d="M1051.5 862.9H1067.3L1082.7 823.9" fill="none" stroke="#303030" stroke-width="0.95"/>
<circle cx="1082.7" cy="636.8" r="5.4" fill="#0000ff"/>
<text x="1092.2" y="641.3" font-size="11.4" fill="#1a1a1a">AP2A2</text>
<circle cx="1082.7" cy="649.2" r="5.4" fill="#0000ff"/>
<text x="1092.2" y="653.7" font-size="11.4" fill="#1a1a1a">CARS1</text>
<circle cx="1082.7" cy="683.5" r="5.4" fill="#00ff00"/>
<text x="1092.2" y="688" font-size="11.4" fill="#1a1a1a">C11orf91</text>
<circle cx="1082.7" cy="730.3" r="5.4" fill="#0000ff"/>
<text x="1092.2" y="734.8" font-size="11.4" fill="#1a1a1a">CPT1A</text>
<circle cx="1082.7" cy="776.8" r="5.4" fill="#00ff00"/>
<text x="1092.2" y="781.3" font-size="11.4" fill="#1a1a1a">PRSS23</text>
<circle cx="1082.7" cy="823.9" r="5.4" fill="#0000ff"/>
<text x="1092.2" y="828.4" font-size="11.4" fill="#1a1a1a">SNX19</text>
<text x="1058.9" y="901.4" font-size="15.8" text-anchor="middle" fill="#111">11</text>
<g clip-path="url(#c11)"><rect x="1161.9" y="696" width="17.8" height="8.2" fill="#4848bc"/><rect x="1161.9" y="655.2" width="17.8" height="4.1" fill="#bebebe"/><rect x="1161.9" y="663.4" width="17.8" height="8.1" fill="#a1a1a1"/><rect x="1161.9" y="674.8" width="17.8" height="9" fill="#a1a1a1"/><rect x="1161.9" y="686.2" width="17.8" height="4.1" fill="#d9d9d9"/><rect x="1161.9" y="704.2" width="17.8" height="13.1" fill="#a1a1a1"/><rect x="1161.9" y="723" width="17.8" height="4.9" fill="#efefef"/><rect x="1161.9" y="738.5" width="17.8" height="8.2" fill="#bebebe"/><rect x="1161.9" y="750.7" width="17.8" height="3.3" fill="#efefef"/><rect x="1161.9" y="761.3" width="17.8" height="6.6" fill="#bebebe"/><rect x="1161.9" y="776.8" width="17.8" height="10.7" fill="#a1a1a1"/><rect x="1161.9" y="791.5" width="17.8" height="5.8" fill="#a1a1a1"/><rect x="1161.9" y="805.4" width="17.8" height="8.2" fill="#bebebe"/><rect x="1161.9" y="816.9" width="17.8" height="9.8" fill="#d9d9d9"/><rect x="1161.9" y="830" width="17.8" height="1.6" fill="#efefef"/><rect x="1161.9" y="836.5" width="17.8" height="3.2" fill="#d9d9d9"/><rect x="1161.9" y="842.2" width="17.8" height="4.1" fill="#d9d9d9"/><rect x="1161.9" y="855.2" width="17.8" height="5.8" fill="#d9d9d9"/></g>
<path d="M1162.9 638.5C1162.9 635.2 1166.1 634 1170.8 634C1175.5 634 1178.7 635.2 1178.7 638.5L1178.7 696L1174.9 700.1L1178.7 704.2L1178.7 869.5C1178.7 872.8 1175.5 874 1170.8 874C1166.1 874 1162.9 872.8 1162.9 869.5L1162.9 704.2L1166.7 700.1L1162.9 696Z" fill="none" stroke="#a6a6a6" stroke-width="1.3"/>
<path d="M1162.9 644.6H1178.7L1194.1 638.1" fill="none" stroke="#303030" stroke-width="0.95"/>
<path d="M1162.9 737.4H1178.7L1194.1 730.3" fill="none" stroke="#303030" stroke-width="0.95"/>
<path d="M1162.9 854.1H1178.7L1194.1 823.4" fill="none" stroke="#303030" stroke-width="0.95"/>
<path d="M1162.9 865.4H1178.7L1194.1 857.7" fill="none" stroke="#303030" stroke-width="0.95"/>
<circle cx="1194.1" cy="638.1" r="5.4" fill="#0000ff"/>
<text x="1203.6" y="642.6" font-size="11.4" fill="#1a1a1a">CCND2</text>
<circle cx="1194.1" cy="730.3" r="5.4" fill="#0000ff"/>
<text x="1203.6" y="734.8" font-size="11.4" fill="#1a1a1a">LRP1</text>
<circle cx="1194.1" cy="823.4" r="5.4" fill="#0000ff"/>
<text x="1203.6" y="827.9" font-size="11.4" fill="#1a1a1a">NCOR2</text>
<circle cx="1194.1" cy="857.7" r="5.4" fill="#0000ff"/>
<text x="1203.6" y="862.2" font-size="11.4" fill="#1a1a1a">ADGRD1</text>
<text x="1170.4" y="900.6" font-size="15.8" text-anchor="middle" fill="#111">12</text>
<g clip-path="url(#c12)"><rect x="28" y="1051" width="17.8" height="5.3" fill="#4848bc"/><rect x="28" y="1023.9" width="17.8" height="7.2" fill="#82b1da"/><rect x="28" y="1031.1" width="17.8" height="8.9" fill="#8ecbfb"/><rect x="28" y="1040" width="17.8" height="11" fill="#82b1da"/><rect x="28" y="1062.9" width="17.8" height="3.7" fill="#efefef"/><rect x="28" y="1071.2" width="17.8" height="2.8" fill="#efefef"/><rect x="28" y="1077.7" width="17.8" height="3.7" fill="#d9d9d9"/><rect x="28" y="1084.2" width="17.8" height="4.6" fill="#bebebe"/><rect x="28" y="1097.1" width="17.8" height="3.7" fill="#efefef"/><rect x="28" y="1102.7" width="17.8" height="4.6" fill="#d9d9d9"/><rect x="28" y="1116.5" width="17.8" height="7.4" fill="#bebebe"/><rect x="28" y="1129.5" width="17.8" height="3.7" fill="#d9d9d9"/><rect x="28" y="1139.7" width="17.8" height="7.4" fill="#a1a1a1"/><rect x="28" y="1150.8" width="17.8" height="3.7" fill="#d9d9d9"/><rect x="28" y="1157.2" width="17.8" height="13" fill="#a1a1a1"/><rect x="28" y="1174.8" width="17.8" height="8.3" fill="#a1a1a1"/><rect x="28" y="1188.7" width="17.8" height="1.8" fill="#efefef"/><rect x="28" y="1195.2" width="17.8" height="3.7" fill="#bebebe"/><rect x="28" y="1204.4" width="17.8" height="3.7" fill="#bebebe"/></g>
<path d="M29 1024C29 1020.7 32.2 1019.5 36.9 1019.5C41.6 1019.5 44.8 1020.7 44.8 1024L44.8 1051L41 1053.5L44.8 1056.3L44.8 1216.5C44.8 1219.8 41.6 1221 36.9 1221C32.2 1221 29 1219.8 29 1216.5L29 1056.3L32.8 1053.5L29 1051Z" fill="none" stroke="#a6a6a6" stroke-width="1.3"/>
<path d="M29 1089.3H44.8L60.2 1062.3" fill="none" stroke="#303030" stroke-width="0.95"/>
<path d="M29 1108.2H44.8L60.2 1101.4" fill="none" stroke="#303030" stroke-width="0.95"/>
<circle cx="60.2" cy="1062.3" r="5.4" fill="#0000ff"/>
<text x="69.7" y="1066.8" font-size="11.4" fill="#1a1a1a">UFM1</text>
<circle cx="60.2" cy="1101.4" r="5.4" fill="#0000ff"/>
<text x="69.7" y="1105.9" font-size="11.4" fill="#1a1a1a">EBPL</text>
<text x="36.8" y="1249.2" font-size="15.8" text-anchor="middle" fill="#111">13</text>
<g clip-path="url(#c13)"><rect x="129.6" y="1057.3" width="17.8" height="4.7" fill="#4848bc"/><rect x="129.6" y="1029.6" width="17.8" height="6.4" fill="#82b1da"/><rect x="129.6" y="1036" width="17.8" height="8.4" fill="#8ecbfb"/><rect x="129.6" y="1044.4" width="17.8" height="12.9" fill="#82b1da"/><rect x="129.6" y="1072.1" width="17.8" height="13" fill="#a1a1a1"/><rect x="129.6" y="1086" width="17.8" height="3.7" fill="#efefef"/><rect x="129.6" y="1090.6" width="17.8" height="2.8" fill="#d9d9d9"/><rect x="129.6" y="1094.3" width="17.8" height="8.4" fill="#a1a1a1"/><rect x="129.6" y="1110" width="17.8" height="5.6" fill="#a1a1a1"/><rect x="129.6" y="1121.2" width="17.8" height="1.8" fill="#efefef"/><rect x="129.6" y="1127.6" width="17.8" height="6.5" fill="#bebebe"/><rect x="129.6" y="1139.7" width="17.8" height="5.5" fill="#d9d9d9"/><rect x="129.6" y="1148" width="17.8" height="6.5" fill="#d9d9d9"/><rect x="129.6" y="1163.7" width="17.8" height="6.5" fill="#a1a1a1"/><rect x="129.6" y="1173" width="17.8" height="7.4" fill="#a1a1a1"/><rect x="129.6" y="1185" width="17.8" height="2.8" fill="#efefef"/><rect x="129.6" y="1189.6" width="17.8" height="8.3" fill="#d9d9d9"/><rect x="129.6" y="1203.5" width="17.8" height="1.8" fill="#efefef"/></g>
<path d="M130.6 1030.9C130.6 1027.6 133.8 1026.4 138.5 1026.4C143.2 1026.4 146.4 1027.6 146.4 1030.9L146.4 1057.3L142.6 1059.7L146.4 1062L146.4 1210.6C146.4 1213.9 143.2 1215.1 138.5 1215.1C133.8 1215.1 130.6 1213.9 130.6 1210.6L130.6 1062L134.4 1059.7L130.6 1057.3Z" fill="none" stroke="#a6a6a6" stroke-width="1.3"/>
<path d="M130.6 1160.9H146.4L161.8 1138.7" fill="none" stroke="#303030" stroke-width="0.95"/>
<path d="M130.6 1199.8H146.4L161.8 1174.8" fill="none" stroke="#303030" stroke-width="0.95"/>
<circle cx="161.8" cy="1138.7" r="5.4" fill="#0000ff"/>
<text x="171.3" y="1143.2" font-size="11.4" fill="#1a1a1a">IRF2BPL</text>
<circle cx="161.8" cy="1174.8" r="5.4" fill="#0000ff"/>
<text x="171.3" y="1179.3" font-size="11.4" fill="#1a1a1a">EVL</text>
<text x="138.2" y="1241.8" font-size="15.8" text-anchor="middle" fill="#111">14</text>
<g clip-path="url(#c14)"><rect x="230.7" y="1061" width="17.8" height="7.5" fill="#4848bc"/><rect x="230.7" y="1034.2" width="17.8" height="6.7" fill="#82b1da"/><rect x="230.7" y="1040.9" width="17.8" height="8.4" fill="#8ecbfb"/><rect x="230.7" y="1049.3" width="17.8" height="11.7" fill="#82b1da"/><rect x="230.7" y="1076.9" width="17.8" height="4.2" fill="#d9d9d9"/><rect x="230.7" y="1085.3" width="17.8" height="1.7" fill="#efefef"/><rect x="230.7" y="1091.1" width="17.8" height="10.9" fill="#bebebe"/><rect x="230.7" y="1105.4" width="17.8" height="3.3" fill="#efefef"/><rect x="230.7" y="1110.4" width="17.8" height="6.7" fill="#bebebe"/><rect x="230.7" y="1123" width="17.8" height="10" fill="#bebebe"/><rect x="230.7" y="1133.8" width="17.8" height="11.7" fill="#efefef"/><rect x="230.7" y="1152.2" width="17.8" height="3.4" fill="#efefef"/><rect x="230.7" y="1160.6" width="17.8" height="3.4" fill="#efefef"/><rect x="230.7" y="1166.5" width="17.8" height="5" fill="#d9d9d9"/><rect x="230.7" y="1177.4" width="17.8" height="5.8" fill="#d9d9d9"/><rect x="230.7" y="1192.4" width="17.8" height="6.7" fill="#d9d9d9"/></g>
<path d="M231.7 1035.4C231.7 1032.1 234.9 1030.9 239.6 1030.9C244.3 1030.9 247.5 1032.1 247.5 1035.4L247.5 1061L243.7 1064.9L247.5 1068.5L247.5 1206C247.5 1209.3 244.3 1210.5 239.6 1210.5C234.9 1210.5 231.7 1209.3 231.7 1206L231.7 1068.5L235.5 1064.9L231.7 1061Z" fill="none" stroke="#a6a6a6" stroke-width="1.3"/>
<path d="M231.7 1149.7H247.5L262.9 1138" fill="none" stroke="#303030" stroke-width="0.95"/>
<path d="M231.7 1187H247.5L262.9 1172" fill="none" stroke="#303030" stroke-width="0.95"/>
<path d="M231.7 1187H247.5L262.9 1189.4" fill="none" stroke="#303030" stroke-width="0.95"/>
<circle cx="262.9" cy="1138" r="5.4" fill="#0000ff"/>
<text x="272.4" y="1142.5" font-size="11.4" fill="#1a1a1a">CORO2B</text>
<circle cx="262.9" cy="1172" r="5.4" fill="#0000ff"/>
<text x="272.4" y="1176.5" font-size="11.4" fill="#1a1a1a">ZNF710</text>
<circle cx="262.9" cy="1189.4" r="5.4" fill="#0000ff"/>
<text x="272.4" y="1193.9" font-size="11.4" fill="#1a1a1a">MAN2A2</text>
<text x="239.2" y="1237.2" font-size="15.8" text-anchor="middle" fill="#111">15</text>
<g clip-path="url(#c15)"><rect x="322.4" y="1102.9" width="17.8" height="6.7" fill="#4848bc"/><rect x="322.4" y="1057.7" width="17.8" height="4.1" fill="#d9d9d9"/><rect x="322.4" y="1065.2" width="17.8" height="3.3" fill="#efefef"/><rect x="322.4" y="1072.7" width="17.8" height="5" fill="#d9d9d9"/><rect x="322.4" y="1085.3" width="17.8" height="5.8" fill="#d9d9d9"/><rect x="322.4" y="1096.2" width="17.8" height="2.5" fill="#efefef"/><rect x="322.4" y="1109.6" width="17.8" height="13.4" fill="#82b1da"/><rect x="322.4" y="1133" width="17.8" height="7.5" fill="#d9d9d9"/><rect x="322.4" y="1141.4" width="17.8" height="15" fill="#a1a1a1"/><rect x="322.4" y="1165.6" width="17.8" height="3.4" fill="#efefef"/><rect x="322.4" y="1169.8" width="17.8" height="8.4" fill="#bebebe"/><rect x="322.4" y="1181.5" width="17.8" height="2.5" fill="#efefef"/></g>
<path d="M323.4 1045.4C323.4 1042.1 326.6 1040.9 331.3 1040.9C336 1040.9 339.2 1042.1 339.2 1045.4L339.2 1102.9L335.4 1106.2L339.2 1109.6L339.2 1195.5C339.2 1198.8 336 1200 331.3 1200C326.6 1200 323.4 1198.8 323.4 1195.5L323.4 1109.6L327.2 1106.2L323.4 1102.9Z" fill="none" stroke="#a6a6a6" stroke-width="1.3"/>
<path d="M323.4 1048.5H339.2L354.6 1044.8" fill="none" stroke="#303030" stroke-width="0.95"/>
<path d="M323.4 1163.1H339.2L354.6 1127.1" fill="none" stroke="#303030" stroke-width="0.95"/>
<path d="M323.4 1192.1H339.2L354.6 1154.8" fill="none" stroke="#303030" stroke-width="0.95"/>
<path d="M323.4 1192.1H339.2L354.6 1165.3" fill="none" stroke="#303030" stroke-width="0.95"/>
<path d="M323.4 1192.1H339.2L354.6 1175.7" fill="none" stroke="#303030" stroke-width="0.95"/>
<path d="M323.4 1192.1H339.2L354.6 1186.6" fill="none" stroke="#303030" stroke-width="0.95"/>
<circle cx="354.6" cy="1044.8" r="5.4" fill="#0000ff"/>
<text x="364.1" y="1049.3" font-size="11.4" fill="#1a1a1a">TBC1D24</text>
<circle cx="354.6" cy="1127.1" r="5.4" fill="#0000ff"/>
<text x="364.1" y="1131.6" font-size="11.4" fill="#1a1a1a">IL34</text>
<circle cx="354.6" cy="1154.8" r="5.4" fill="#0000ff"/>
<text x="364.1" y="1159.3" font-size="11.4" fill="#1a1a1a">KLHDC4</text>
<circle cx="354.6" cy="1165.3" r="5.4" fill="#0000ff"/>
<text x="364.1" y="1169.8" font-size="11.4" fill="#1a1a1a">SLC7A5</text>
<circle cx="354.6" cy="1175.7" r="5.4" fill="#0000ff"/>
<text x="364.1" y="1180.2" font-size="11.4" fill="#1a1a1a">SLC7A5</text>
<circle cx="354.6" cy="1186.6" r="5.4" fill="#0000ff"/>
<text x="364.1" y="1191.1" font-size="11.4" fill="#1a1a1a">SLC7A5</text>
<text x="331.3" y="1227.1" font-size="15.8" text-anchor="middle" fill="#111">16</text>
<g clip-path="url(#c16)"><rect x="423.8" y="1089.9" width="17.8" height="5.8" fill="#4848bc"/><rect x="423.8" y="1057.3" width="17.8" height="5.1" fill="#d9d9d9"/><rect x="423.8" y="1069.6" width="17.8" height="9.4" fill="#bebebe"/><rect x="423.8" y="1105.8" width="17.8" height="10.1" fill="#d9d9d9"/><rect x="423.8" y="1116.6" width="17.8" height="4.4" fill="#efefef"/><rect x="423.8" y="1127.5" width="17.8" height="4.3" fill="#efefef"/><rect x="423.8" y="1136.9" width="17.8" height="12.3" fill="#a1a1a1"/><rect x="423.8" y="1149.9" width="17.8" height="4.3" fill="#bebebe"/><rect x="423.8" y="1157.1" width="17.8" height="2.9" fill="#d9d9d9"/><rect x="423.8" y="1165.1" width="17.8" height="5.7" fill="#bebebe"/><rect x="423.8" y="1177.3" width="17.8" height="1.5" fill="#efefef"/></g>
<path d="M424.8 1052.9C424.8 1049.6 428 1048.4 432.7 1048.4C437.4 1048.4 440.6 1049.6 440.6 1052.9L440.6 1089.9L436.8 1092.8L440.6 1095.7L440.6 1188C440.6 1191.3 437.4 1192.5 432.7 1192.5C428 1192.5 424.8 1191.3 424.8 1188L424.8 1095.7L428.6 1092.8L424.8 1089.9Z" fill="none" stroke="#a6a6a6" stroke-width="1.3"/>
<path d="M424.8 1082.2H440.6L456 1079.3" fill="none" stroke="#303030" stroke-width="0.95"/>
<circle cx="456" cy="1079.3" r="5.4" fill="#0000ff"/>
<text x="465.5" y="1083.8" font-size="11.4" fill="#1a1a1a">SREBF1</text>
<text x="432.6" y="1219.7" font-size="15.8" text-anchor="middle" fill="#111">17</text>
<g clip-path="url(#c17)"><rect x="516.2" y="1081.2" width="17.8" height="5.8" fill="#4848bc"/><rect x="516.2" y="1059.5" width="17.8" height="7.2" fill="#d9d9d9"/><rect x="516.2" y="1068.9" width="17.8" height="4.4" fill="#efefef"/><rect x="516.2" y="1097.1" width="17.8" height="12.3" fill="#a1a1a1"/><rect x="516.2" y="1118.1" width="17.8" height="9.4" fill="#bebebe"/><rect x="516.2" y="1136.1" width="17.8" height="9.4" fill="#bebebe"/><rect x="516.2" y="1149.2" width="17.8" height="5" fill="#d9d9d9"/><rect x="516.2" y="1158.5" width="17.8" height="8" fill="#a1a1a1"/><rect x="516.2" y="1169.4" width="17.8" height="8.7" fill="#efefef"/></g>
<path d="M517.2 1055.3C517.2 1052 520.4 1050.8 525.1 1050.8C529.8 1050.8 533 1052 533 1055.3L533 1081.2L529.2 1084.1L533 1087L533 1185.9C533 1189.2 529.8 1190.4 525.1 1190.4C520.4 1190.4 517.2 1189.2 517.2 1185.9L517.2 1087L521 1084.1L517.2 1081.2Z" fill="none" stroke="#a6a6a6" stroke-width="1.3"/>
<text x="524.9" y="1217.5" font-size="15.8" text-anchor="middle" fill="#111">18</text>
<g clip-path="url(#c18)"><rect x="626.3" y="1112.2" width="17.8" height="7.1" fill="#4848bc"/><rect x="626.3" y="1081.4" width="17.8" height="21.2" fill="#efefef"/><rect x="626.3" y="1103.4" width="17.8" height="8.8" fill="#82b1da"/><rect x="626.3" y="1119.3" width="17.8" height="5.3" fill="#82b1da"/><rect x="626.3" y="1130.7" width="17.8" height="5.3" fill="#efefef"/><rect x="626.3" y="1145.7" width="17.8" height="5.3" fill="#efefef"/><rect x="626.3" y="1157.2" width="17.8" height="3.5" fill="#efefef"/><rect x="626.3" y="1165.1" width="17.8" height="6.2" fill="#efefef"/></g>
<path d="M627.3 1071.8C627.3 1068.5 630.5 1067.3 635.2 1067.3C639.9 1067.3 643.1 1068.5 643.1 1071.8L643.1 1112.2L639.3 1115.8L643.1 1119.3L643.1 1170.3C643.1 1173.6 639.9 1174.8 635.2 1174.8C630.5 1174.8 627.3 1173.6 627.3 1170.3L627.3 1119.3L631.1 1115.8L627.3 1112.2Z" fill="none" stroke="#a6a6a6" stroke-width="1.3"/>
<path d="M627.3 1103.4H643.1L658.5 1090.2" fill="none" stroke="#303030" stroke-width="0.95"/>
<path d="M627.3 1162.1H643.1L658.5 1149.2" fill="none" stroke="#303030" stroke-width="0.95"/>
<path d="M627.3 1162.1H643.1L658.5 1160.3" fill="none" stroke="#303030" stroke-width="0.95"/>
<circle cx="658.5" cy="1090.2" r="5.4" fill="#0000ff"/>
<text x="668" y="1094.7" font-size="11.4" fill="#1a1a1a">GATAD2A</text>
<circle cx="658.5" cy="1149.2" r="5.4" fill="#0000ff"/>
<text x="668" y="1153.7" font-size="11.4" fill="#1a1a1a">MYADM</text>
<circle cx="658.5" cy="1160.3" r="5.4" fill="#0000ff"/>
<text x="668" y="1164.8" font-size="11.4" fill="#1a1a1a">MYADM</text>
<text x="635.8" y="1201.3" font-size="15.8" text-anchor="middle" fill="#111">19</text>
<g clip-path="url(#c19)"><rect x="727.6" y="1110.5" width="17.8" height="6.2" fill="#4848bc"/><rect x="727.6" y="1076.1" width="17.8" height="6.2" fill="#bebebe"/><rect x="727.6" y="1088.5" width="17.8" height="11.4" fill="#bebebe"/><rect x="727.6" y="1103.4" width="17.8" height="2.7" fill="#efefef"/><rect x="727.6" y="1121.1" width="17.8" height="4.4" fill="#efefef"/><rect x="727.6" y="1130.7" width="17.8" height="6.2" fill="#bebebe"/><rect x="727.6" y="1139.6" width="17.8" height="6.1" fill="#efefef"/><rect x="727.6" y="1151" width="17.8" height="8.8" fill="#bebebe"/><rect x="727.6" y="1162.5" width="17.8" height="2.6" fill="#d9d9d9"/></g>
<path d="M728.6 1068.3C728.6 1065 731.8 1063.8 736.5 1063.8C741.2 1063.8 744.4 1065 744.4 1068.3L744.4 1110.5L740.6 1113.7L744.4 1116.7L744.4 1172.9C744.4 1176.2 741.2 1177.4 736.5 1177.4C731.8 1177.4 728.6 1176.2 728.6 1172.9L728.6 1116.7L732.4 1113.7L728.6 1110.5Z" fill="none" stroke="#a6a6a6" stroke-width="1.3"/>
<path d="M728.6 1128.1H744.4L759.8 1110.1" fill="none" stroke="#303030" stroke-width="0.95"/>
<path d="M728.6 1128.1H744.4L759.8 1120.5" fill="none" stroke="#303030" stroke-width="0.95"/>
<path d="M728.6 1147.5H744.4L759.8 1131.6" fill="none" stroke="#303030" stroke-width="0.95"/>
<circle cx="759.8" cy="1110.1" r="5.4" fill="#0000ff"/>
<text x="769.3" y="1114.6" font-size="11.4" fill="#1a1a1a">SRC</text>
<circle cx="759.8" cy="1120.5" r="5.4" fill="#0000ff"/>
<text x="769.3" y="1125" font-size="11.4" fill="#1a1a1a">SRC</text>
<circle cx="759.8" cy="1131.6" r="5.4" fill="#0000ff"/>
<text x="769.3" y="1136.1" font-size="11.4" fill="#1a1a1a">ARFGEF2</text>
<text x="736.5" y="1204.8" font-size="15.8" text-anchor="middle" fill="#111">20</text>
<g clip-path="url(#c20)"><rect x="829.3" y="1096.7" width="17.8" height="7.9" fill="#4848bc"/><rect x="829.3" y="1080" width="17.8" height="4.4" fill="#82b1da"/><rect x="829.3" y="1084.4" width="17.8" height="7" fill="#8ecbfb"/><rect x="829.3" y="1091.4" width="17.8" height="5.3" fill="#82b1da"/><rect x="829.3" y="1105.5" width="17.8" height="1.8" fill="#efefef"/><rect x="829.3" y="1108.2" width="17.8" height="11.4" fill="#a1a1a1"/><rect x="829.3" y="1124.9" width="17.8" height="7.9" fill="#bebebe"/><rect x="829.3" y="1139.9" width="17.8" height="3.5" fill="#d9d9d9"/><rect x="829.3" y="1146.9" width="17.8" height="5.3" fill="#d9d9d9"/></g>
<path d="M830.3 1081C830.3 1077.7 833.5 1076.5 838.2 1076.5C842.9 1076.5 846.1 1077.7 846.1 1081L846.1 1096.7L842.3 1101.1L846.1 1104.6L846.1 1160.5C846.1 1163.8 842.9 1165 838.2 1165C833.5 1165 830.3 1163.8 830.3 1160.5L830.3 1104.6L834.1 1101.1L830.3 1096.7Z" fill="none" stroke="#a6a6a6" stroke-width="1.3"/>
<path d="M830.3 1097.6H846.1L861.5 1080" fill="none" stroke="#303030" stroke-width="0.95"/>
<path d="M830.3 1153.1H846.1L861.5 1089.7" fill="none" stroke="#303030" stroke-width="0.95"/>
<path d="M830.3 1153.1H846.1L861.5 1099.9" fill="none" stroke="#303030" stroke-width="0.95"/>
<path d="M830.3 1153.1H846.1L861.5 1109.9" fill="none" stroke="#303030" stroke-width="0.95"/>
<path d="M830.3 1153.1H846.1L861.5 1120.1" fill="none" stroke="#303030" stroke-width="0.95"/>
<path d="M830.3 1153.1H846.1L861.5 1130.5" fill="none" stroke="#303030" stroke-width="0.95"/>
<path d="M830.3 1153.1H846.1L861.5 1140.7" fill="none" stroke="#303030" stroke-width="0.95"/>
<path d="M830.3 1153.1H846.1L861.5 1151.3" fill="none" stroke="#303030" stroke-width="0.95"/>
<circle cx="861.5" cy="1080" r="5.4" fill="#0000ff"/>
<text x="871" y="1084.5" font-size="11.4" fill="#1a1a1a">LINC00649</text>
<circle cx="861.5" cy="1089.7" r="5.4" fill="#0000ff"/>
<text x="871" y="1094.2" font-size="11.4" fill="#1a1a1a">ABCG1</text>
<circle cx="861.5" cy="1099.9" r="5.4" fill="#0000ff"/>
<text x="871" y="1104.4" font-size="11.4" fill="#1a1a1a">ABCG1</text>
<circle cx="861.5" cy="1109.9" r="5.4" fill="#0000ff"/>
<text x="871" y="1114.4" font-size="11.4" fill="#1a1a1a">ABCG1</text>
<circle cx="861.5" cy="1120.1" r="5.4" fill="#0000ff"/>
<text x="871" y="1124.6" font-size="11.4" fill="#1a1a1a">ABCG1</text>
<circle cx="861.5" cy="1130.5" r="5.4" fill="#0000ff"/>
<text x="871" y="1135" font-size="11.4" fill="#1a1a1a">ABCG1</text>
<circle cx="861.5" cy="1140.7" r="5.4" fill="#0000ff"/>
<text x="871" y="1145.2" font-size="11.4" fill="#1a1a1a">ABCG1</text>
<circle cx="861.5" cy="1151.3" r="5.4" fill="#0000ff"/>
<text x="871" y="1155.8" font-size="11.4" fill="#1a1a1a">TFF3</text>
<text x="837" y="1192.2" font-size="15.8" text-anchor="middle" fill="#111">21</text>
<g clip-path="url(#c21)"><rect x="949.6" y="1097.6" width="17.8" height="9.7" fill="#4848bc"/><rect x="949.6" y="1077.3" width="17.8" height="5.3" fill="#82b1da"/><rect x="949.6" y="1082.6" width="17.8" height="8.8" fill="#8ecbfb"/><rect x="949.6" y="1091.4" width="17.8" height="6.2" fill="#82b1da"/><rect x="949.6" y="1115.2" width="17.8" height="1.8" fill="#efefef"/><rect x="949.6" y="1121.4" width="17.8" height="5.3" fill="#d9d9d9"/><rect x="949.6" y="1131.9" width="17.8" height="8.8" fill="#d9d9d9"/><rect x="949.6" y="1146" width="17.8" height="6.2" fill="#d9d9d9"/><rect x="949.6" y="1159.2" width="17.8" height="1.8" fill="#efefef"/></g>
<path d="M950.6 1078C950.6 1074.7 953.8 1073.5 958.5 1073.5C963.2 1073.5 966.4 1074.7 966.4 1078L966.4 1097.6L962.6 1102L966.4 1107.3L966.4 1162.7C966.4 1166 963.2 1167.2 958.5 1167.2C953.8 1167.2 950.6 1166 950.6 1162.7L950.6 1107.3L954.4 1102L950.6 1097.6Z" fill="none" stroke="#a6a6a6" stroke-width="1.3"/>
<path d="M950.6 1129.6H966.4L981.8 1127" fill="none" stroke="#303030" stroke-width="0.95"/>
<path d="M950.6 1144.3H966.4L981.8 1144.6" fill="none" stroke="#303030" stroke-width="0.95"/>
<circle cx="981.8" cy="1127" r="5.4" fill="#0000ff"/>
<text x="991.3" y="1131.5" font-size="11.4" fill="#1a1a1a">SEC14L6</text>
<circle cx="981.8" cy="1144.6" r="5.4" fill="#0000ff"/>
<text x="991.3" y="1149.1" font-size="11.4" fill="#1a1a1a">SYNGR1</text>
<text x="957.6" y="1194.9" font-size="15.8" text-anchor="middle" fill="#111">22</text>
<g clip-path="url(#c22)"><rect x="1050.5" y="1087.6" width="17.8" height="8.3" fill="#4848bc"/><rect x="1050.5" y="997.3" width="17.8" height="2.6" fill="#d9d9d9"/><rect x="1050.5" y="1006.3" width="17.8" height="12.1" fill="#d9d9d9"/><rect x="1050.5" y="1022.9" width="17.8" height="3.9" fill="#d9d9d9"/><rect x="1050.5" y="1031.9" width="17.8" height="7" fill="#a1a1a1"/><rect x="1050.5" y="1043.4" width="17.8" height="9.6" fill="#a1a1a1"/><rect x="1050.5" y="1062" width="17.8" height="5.8" fill="#bebebe"/><rect x="1050.5" y="1074.2" width="17.8" height="7.6" fill="#efefef"/><rect x="1050.5" y="1098.5" width="17.8" height="5.1" fill="#d9d9d9"/><rect x="1050.5" y="1111.3" width="17.8" height="2.6" fill="#d9d9d9"/><rect x="1050.5" y="1117.7" width="17.8" height="14" fill="#a1a1a1"/><rect x="1050.5" y="1135" width="17.8" height="8.6" fill="#a1a1a1"/><rect x="1050.5" y="1147" width="17.8" height="7.3" fill="#bebebe"/><rect x="1050.5" y="1162.3" width="17.8" height="1.3" fill="#efefef"/><rect x="1050.5" y="1173" width="17.8" height="12" fill="#bebebe"/><rect x="1050.5" y="1193.6" width="17.8" height="12" fill="#a1a1a1"/><rect x="1050.5" y="1207.6" width="17.8" height="6.7" fill="#efefef"/><rect x="1050.5" y="1222.9" width="17.8" height="2.7" fill="#d9d9d9"/><rect x="1050.5" y="1228.9" width="17.8" height="8" fill="#a1a1a1"/></g>
<path d="M1051.5 990.3C1051.5 987 1054.7 985.8 1059.4 985.8C1064.1 985.8 1067.3 987 1067.3 990.3L1067.3 1087.6L1063.5 1091.7L1067.3 1095.9L1067.3 1251.1C1067.3 1254.4 1064.1 1255.6 1059.4 1255.6C1054.7 1255.6 1051.5 1254.4 1051.5 1251.1L1051.5 1095.9L1055.3 1091.7L1051.5 1087.6Z" fill="none" stroke="#a6a6a6" stroke-width="1.3"/>
<text x="1059.3" y="1282.6" font-size="15.8" text-anchor="middle" fill="#111">X</text>
<g clip-path="url(#c23)"><rect x="1161.3" y="1090.2" width="17.8" height="3.4" fill="#4848bc"/><rect x="1161.3" y="1075" width="17.8" height="1" fill="#efefef"/><rect x="1161.3" y="1095.9" width="17.8" height="7.7" fill="#d9d9d9"/><rect x="1161.3" y="1108.1" width="17.8" height="6.4" fill="#d9d9d9"/><rect x="1161.3" y="1119" width="17.8" height="51.3" fill="#82b1da"/></g>
<path d="M1162.3 1071C1162.3 1067.7 1165.5 1066.5 1170.2 1066.5C1174.9 1066.5 1178.1 1067.7 1178.1 1071L1178.1 1087.8L1174.3 1090.8L1178.1 1093.6L1178.1 1170.5C1178.1 1173.8 1174.9 1175 1170.2 1175C1165.5 1175 1162.3 1173.8 1162.3 1170.5L1162.3 1093.6L1166.1 1090.8L1162.3 1087.8Z" fill="none" stroke="#a6a6a6" stroke-width="1.3"/>
<text x="1169.9" y="1202" font-size="15.8" text-anchor="middle" fill="#111">Y</text>
</svg>
</body></html>
